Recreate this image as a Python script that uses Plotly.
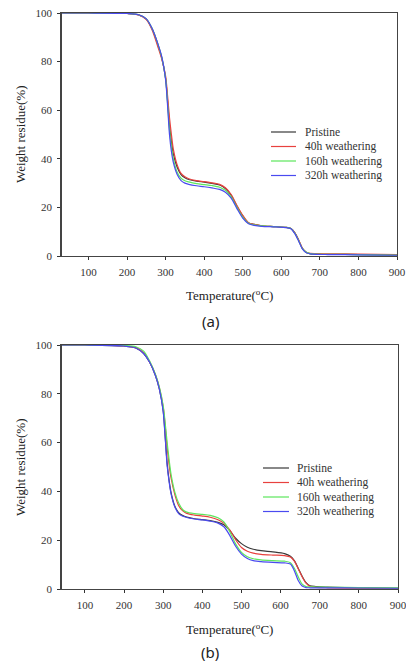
import plotly.graph_objects as go

temperature = [30, 100, 200, 230, 250, 265, 280, 290, 300, 305, 310, 315, 320, 330, 340,
               350, 360, 380, 400, 420, 440, 455, 470, 485, 500, 515, 530, 550, 580, 610,
               625, 635, 645, 655, 665, 675, 690, 720, 800, 900]

series_names = ["Pristine", "40h weathering", "160h weathering", "320h weathering"]
series_colors = ["#3a3a3a", "#e8413e", "#5de65d", "#4a4af0"]

# panel (a)
a_pristine = [100, 100, 99.8, 99.2, 97.5, 93.5, 87, 81.5, 73, 64, 54, 47, 42, 36.5, 33.5,
              32.2, 31.5, 30.8, 30.4, 29.9, 29.2, 27.8, 25, 20.5, 16.5, 13.6, 13, 12.4, 12.1, 11.8,
              11.3, 9.5, 6.5, 3.0, 1.4, 0.9, 0.8, 0.7, 0.6, 0.4]
a_40h = [100, 100, 99.8, 99.2, 97.3, 93, 86, 81, 74, 66, 57, 50, 44, 37.5, 34,
         32.6, 31.8, 31.0, 30.6, 30.1, 29.5, 28.1, 25.3, 20.8, 16.7, 13.7, 13, 12.4, 12.1, 11.8,
         11.3, 9.6, 6.6, 3.2, 1.5, 1.1, 1.0, 0.9, 0.8, 0.6]
a_160h = [100, 100, 99.8, 99.3, 97.6, 93.6, 87.2, 81.8, 73, 63, 52, 45, 40, 34.5, 32,
          31, 30.5, 29.8, 29.4, 29, 28.3, 27, 24.3, 20, 16, 13.5, 12.8, 12.4, 12.1, 11.8,
          11.3, 9.4, 6.3, 3.0, 1.5, 1.0, 0.8, 0.7, 0.6, 0.4]
a_320h = [100, 100, 99.8, 99.3, 97.6, 93.6, 87.3, 82, 72.5, 62, 50, 43, 38.5, 33.5, 31,
          30, 29.5, 28.9, 28.5, 28, 27.4, 26.2, 23.8, 19.5, 15.6, 13.3, 12.6, 12.2, 12, 11.7,
          11.2, 9.2, 6.1, 2.8, 1.3, 0.9, 0.7, 0.6, 0.5, 0.3]

# panel (b)
b_pristine = [100, 100, 99.6, 98.8, 96.5, 93, 87.5, 82, 73, 62.5, 51.5, 44.5, 39.5, 33.8, 31.2,
              30.1, 29.5, 28.8, 28.4, 28, 27.3, 26.3, 24, 20.8, 18.6, 17.1, 16.3, 15.7, 15.2, 14.5,
              13.4, 11.6, 8.5, 5.2, 2.6, 1.3, 1.0, 0.8, 0.5, 0.3]
b_40h = [100, 100, 99.6, 98.9, 96.8, 93.2, 87.8, 82.5, 74.5, 67, 58, 51, 45.5, 38.5, 34,
         32, 31, 30.3, 29.9, 29.4, 28.4, 27, 24.2, 20.2, 17, 15.5, 14.7, 14.2, 13.9, 13.7,
         13.1, 11.4, 8.3, 5.0, 2.4, 1.1, 0.7, 0.5, 0.3, 0.2]
b_160h = [100, 100, 99.8, 99.3, 97.5, 93.5, 88, 82.8, 75, 68, 60, 53, 47, 39.5, 35,
          32.5, 31.5, 30.9, 30.6, 30.2, 29.2, 27.5, 23.5, 18.5, 15, 13.2, 12.4, 11.9, 11.6, 11.4,
          10.8, 8.5, 5.0, 2.0, 1.0, 0.9, 0.8, 0.7, 0.6, 0.5]
b_320h = [100, 100, 99.6, 98.8, 96.5, 93, 87.5, 82, 72.5, 62, 50.5, 44, 39, 33.5, 30.8,
          29.8, 29.3, 28.7, 28.3, 27.8, 27, 25.5, 22, 17.5, 14.3, 12.5, 11.6, 11.2, 10.9, 10.7,
          10.2, 7.5, 3.5, 1.2, 0.6, 0.5, 0.5, 0.5, 0.4, 0.3]

x_ticks = [100, 200, 300, 400, 500, 600, 700, 800, 900]
y_ticks = [0, 20, 40, 60, 80, 100]

W, H = 406, 664
FONT = "Liberation Serif, Times New Roman, serif"
TXT = "#333333"


def px_x(p):
    return p / W


def px_y(p):
    return 1 - p / H


fig = go.Figure()

panels = [
    ("x", "y", [a_pristine, a_40h, a_160h, a_320h]),
    ("x2", "y2", [b_pristine, b_40h, b_160h, b_320h]),
]
for xa, ya, data in panels:
    for name, color, vals in zip(series_names, series_colors, data):
        fig.add_trace(go.Scatter(
            x=temperature, y=vals, name=name, mode="lines",
            line=dict(color=color, width=1.2, shape="spline", smoothing=0.8),
            xaxis=xa, yaxis=ya, showlegend=False, hoverinfo="skip",
        ))

axis_common = dict(
    showgrid=False, zeroline=False, showline=True, linecolor="#444444", linewidth=1.2,
    mirror=True, ticks="outside", ticklen=3, tickcolor="#333333", tickwidth=1,
    tickfont=dict(family=FONT, size=11, color=TXT), automargin=False,
    ticklabeloverflow="allow", ticklabelstandoff=3,
)
inner_ticks = dict(
    showgrid=False, zeroline=False, showline=False, ticks="inside", ticklen=3,
    tickcolor="#333333", tickwidth=1, showticklabels=False, automargin=False,
)

fig.update_layout(
    width=W, height=H, margin=dict(l=0, r=0, t=0, b=0),
    paper_bgcolor="white", plot_bgcolor="white",
    xaxis=dict(domain=[px_x(61.5), px_x(397)], range=[30, 900], tickvals=x_ticks,
               anchor="y", **axis_common),
    yaxis=dict(domain=[px_y(256), px_y(13)], range=[0, 100], tickvals=y_ticks,
               anchor="x", **axis_common),
    xaxis2=dict(domain=[px_x(61.5), px_x(398)], range=[40, 900], tickvals=x_ticks,
                anchor="y2", **axis_common),
    yaxis2=dict(domain=[px_y(589), px_y(345)], range=[0, 100], tickvals=y_ticks,
                anchor="x2", **axis_common),
    xaxis3=dict(overlaying="x", anchor="y", side="bottom", range=[30, 900],
                tickvals=x_ticks, **inner_ticks),
    yaxis3=dict(overlaying="y", anchor="x", side="left", range=[0, 100],
                tickvals=y_ticks, **inner_ticks),
    xaxis4=dict(overlaying="x2", anchor="y2", side="bottom", range=[40, 900],
                tickvals=x_ticks, **inner_ticks),
    yaxis4=dict(overlaying="y2", anchor="x2", side="left", range=[0, 100],
                tickvals=y_ticks, **inner_ticks),
)

# legends drawn as line shapes plus text
legend_specs = [
    dict(line_x=(271, 296), text_x=303, rows=[132, 146.5, 161, 175.5]),
    dict(line_x=(263, 289), text_x=295, rows=[468, 482.5, 497, 511.5]),
]
for spec in legend_specs:
    for name, color, ry in zip(series_names, series_colors, spec["rows"]):
        fig.add_shape(type="line", xref="paper", yref="paper",
                      x0=px_x(spec["line_x"][0]), x1=px_x(spec["line_x"][1]),
                      y0=px_y(ry), y1=px_y(ry), line=dict(color=color, width=1.2))
        fig.add_annotation(xref="paper", yref="paper", showarrow=False,
                           x=px_x(spec["text_x"]), y=px_y(ry), xanchor="left",
                           yanchor="middle", text=name,
                           font=dict(family=FONT, size=11.5, color=TXT))

ann_font = dict(family=FONT, size=13, color="#222222")
cap_font = dict(family="Noto Sans, DejaVu Sans, sans-serif", size=15, color="#222222")
annotations = [
    dict(text="Temperature(<sup>o</sup>C)", x=px_x(229), y=px_y(295), font=ann_font),
    dict(text="(a)", x=px_x(210), y=px_y(321), font=cap_font),
    dict(text="Weight residue(%)", x=px_x(20), y=px_y(134), textangle=-90, font=ann_font),
    dict(text="Temperature(<sup>o</sup>C)", x=px_x(229), y=px_y(629), font=ann_font),
    dict(text="(b)", x=px_x(210), y=px_y(652), font=cap_font),
    dict(text="Weight residue(%)", x=px_x(20), y=px_y(467), textangle=-90, font=ann_font),
]
for a in annotations:
    fig.add_annotation(xref="paper", yref="paper", showarrow=False,
                       xanchor="center", yanchor="middle", **a)

fig.write_html("out.html", config={"displayModeBar": False, "staticPlot": True},
               post_script="document.body.style.margin='0px';")
